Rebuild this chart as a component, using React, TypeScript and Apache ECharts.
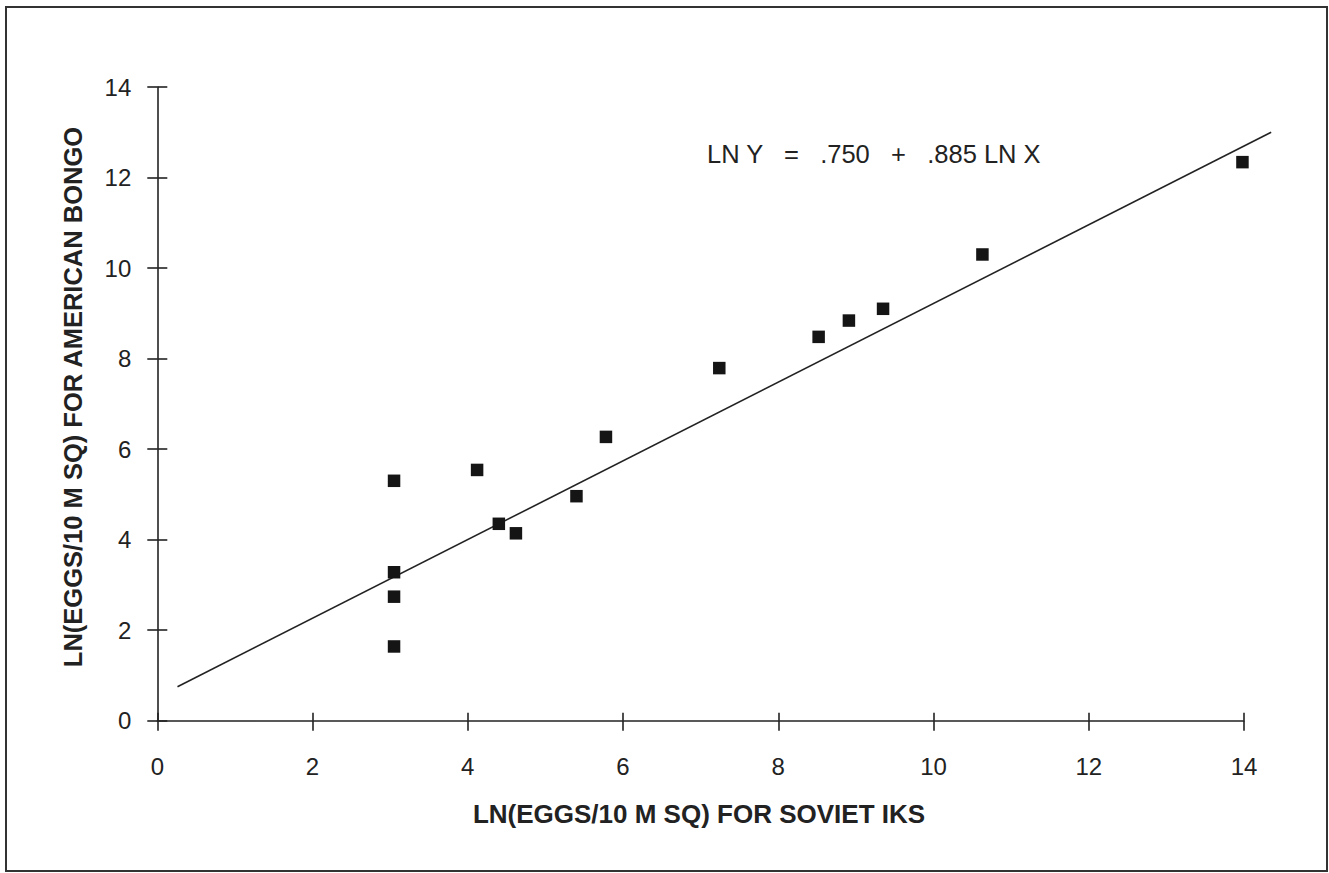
import React, { useEffect, useRef } from "react";
import * as echarts from "echarts";

const sovietX = [3.05, 3.05, 3.05, 3.05, 4.12, 4.4, 4.62, 5.4, 5.78, 7.24, 8.52, 8.91, 9.35, 10.63, 13.98];
const bongoY = [5.3, 3.28, 2.74, 1.64, 5.54, 4.35, 4.14, 4.96, 6.27, 7.79, 8.48, 8.84, 9.1, 10.3, 12.34];
const fitX = [0.26, 14.35];
const fitY = [0.75, 13.0];
const xTitle = "LN(EGGS/10 M SQ) FOR SOVIET IKS";
const yTitle = "LN(EGGS/10 M SQ) FOR AMERICAN BONGO";
const equation = "LN Y   =   .750   +   .885 LN X";

const FONT = "'Liberation Sans', Arial, Helvetica, sans-serif";
const INK = "#222";

export default function App() {
  const ref = useRef<HTMLDivElement>(null);
  useEffect(() => {
    if (!ref.current) return;
    const chart = echarts.init(ref.current, null, { renderer: "svg" });
    const baseAxis = {
      type: "value" as const,
      min: 0,
      max: 14,
      interval: 2,
      splitLine: { show: false },
    };
    chart.setOption({
      animation: false,
      backgroundColor: "#fff",
      textStyle: { fontFamily: FONT },
      grid: { left: 157.3, right: 85, top: 87, bottom: 152.3, containLabel: false },
      xAxis: [
        {
          ...baseAxis,
          position: "bottom",
          axisLine: { show: true, onZero: false, lineStyle: { color: INK, width: 1.6 } },
          axisTick: { show: true, inside: false, length: 10, lineStyle: { color: INK, width: 1.6 } },
          axisLabel: { margin: 34, fontSize: 24, color: INK, fontFamily: FONT },
        },
        {
          ...baseAxis,
          position: "bottom",
          offset: 0,
          axisLine: { show: false, onZero: false },
          axisTick: { show: true, inside: true, length: 8, lineStyle: { color: INK, width: 1.6 } },
          axisLabel: { show: false },
        },
      ],
      yAxis: [
        {
          ...baseAxis,
          position: "left",
          axisLine: { show: true, onZero: false, lineStyle: { color: INK, width: 1.6 } },
          axisTick: { show: true, inside: false, length: 10, lineStyle: { color: INK, width: 1.6 } },
          axisLabel: { margin: 26, fontSize: 24, color: INK, fontFamily: FONT },
        },
        {
          ...baseAxis,
          position: "left",
          offset: 0,
          axisLine: { show: false, onZero: false },
          axisTick: { show: true, inside: true, length: 10, lineStyle: { color: INK, width: 1.6 } },
          axisLabel: { show: false },
        },
      ],
      graphic: [
        {
          type: "rect",
          shape: { x: 6, y: 7, width: 1321, height: 864 },
          style: { fill: "none", stroke: "#333", lineWidth: 2 },
          silent: true,
        },
        {
          type: "text",
          left: 707,
          top: 141,
          style: { text: equation, fontSize: 25.5, fill: INK, fontFamily: FONT },
        },
        {
          type: "text",
          x: 699,
          y: 814,
          style: {
            text: xTitle,
            fontSize: 26,
            fontWeight: "bold",
            fill: INK,
            fontFamily: FONT,
            align: "center",
            verticalAlign: "middle",
          },
        },
        {
          type: "text",
          x: 73,
          y: 397,
          rotation: Math.PI / 2,
          style: {
            text: yTitle,
            fontSize: 25.5,
            fontWeight: "bold",
            fill: INK,
            fontFamily: FONT,
            align: "center",
            verticalAlign: "middle",
          },
        },
      ],
      series: [
        {
          type: "custom",
          xAxisIndex: 0,
          yAxisIndex: 0,
          clip: false,
          silent: true,
          data: [[fitX[0], fitY[0], fitX[1], fitY[1]]],
          renderItem: (params: any, api: any) => {
            const p1 = api.coord([api.value(0), api.value(1)]);
            const p2 = api.coord([api.value(2), api.value(3)]);
            return {
              type: "line",
              shape: { x1: p1[0], y1: p1[1], x2: p2[0], y2: p2[1] },
              style: { stroke: INK, lineWidth: 1.6 },
            };
          },
        },
        {
          type: "scatter",
          xAxisIndex: 0,
          yAxisIndex: 0,
          data: sovietX.map((x, i) => [x, bongoY[i]]),
          symbol: "rect",
          symbolSize: 12.5,
          itemStyle: { color: "#151515", opacity: 1 },
          clip: false,
        },
      ],
    });
    return () => chart.dispose();
  }, []);
  return (
    <div
      ref={ref}
      style={{ position: "absolute", left: 0, top: 0, width: 1329, height: 873 }}
    />
  );
}
